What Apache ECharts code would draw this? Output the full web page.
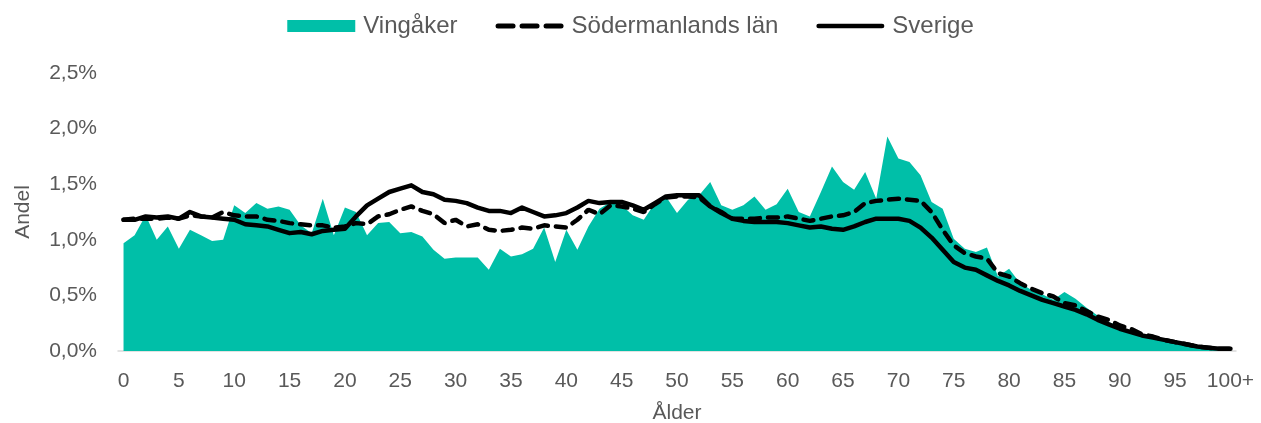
<!DOCTYPE html>
<html><head><meta charset="utf-8">
<script src="https://cdn.jsdelivr.net/npm/echarts@6/dist/echarts.min.js"></script>
<style>html,body{margin:0;padding:0;background:#fff}#c{width:1261px;height:423px}</style>
</head><body><div id="c"></div>
<script>
const ages = [];
for (let i = 0; i < 100; i++) ages.push(String(i));
ages.push('100+');
const vingaker = [0.97,1.04,1.22,1.00,1.12,0.92,1.09,1.04,0.99,1.00,
1.31,1.24,1.33,1.28,1.30,1.27,1.13,1.06,1.37,1.04,
1.29,1.25,1.04,1.15,1.16,1.06,1.07,1.03,0.91,0.83,
0.84,0.84,0.84,0.73,0.92,0.85,0.87,0.92,1.11,0.80,
1.09,0.91,1.12,1.28,1.34,1.31,1.22,1.18,1.33,1.39,
1.24,1.36,1.40,1.52,1.31,1.27,1.31,1.39,1.27,1.32,
1.46,1.25,1.21,1.43,1.66,1.52,1.45,1.61,1.37,1.93,
1.73,1.70,1.58,1.34,1.28,1.01,0.92,0.89,0.93,0.67,
0.74,0.61,0.55,0.51,0.46,0.53,0.47,0.39,0.32,0.26,
0.22,0.17,0.14,0.13,0.10,0.07,0.05,0.035,0.02,0.015,0.02];
const sodermanland = [1.18,1.19,1.19,1.19,1.20,1.19,1.22,1.21,1.20,1.25,
1.22,1.21,1.21,1.18,1.17,1.15,1.14,1.13,1.13,1.11,
1.12,1.15,1.14,1.21,1.23,1.27,1.30,1.26,1.23,1.15,
1.18,1.12,1.14,1.09,1.08,1.09,1.11,1.10,1.13,1.12,
1.11,1.18,1.27,1.23,1.31,1.30,1.28,1.25,1.32,1.38,
1.39,1.39,1.38,1.30,1.25,1.19,1.19,1.19,1.20,1.20,
1.21,1.19,1.17,1.19,1.21,1.22,1.25,1.33,1.35,1.36,
1.37,1.36,1.35,1.25,1.09,0.95,0.88,0.85,0.83,0.70,
0.67,0.61,0.56,0.52,0.49,0.43,0.41,0.36,0.31,0.28,
0.23,0.20,0.15,0.13,0.10,0.08,0.06,0.04,0.03,0.02,0.02];
const sverige = [1.18,1.18,1.21,1.20,1.21,1.19,1.25,1.21,1.20,1.19,
1.18,1.14,1.13,1.12,1.09,1.06,1.07,1.05,1.08,1.09,
1.10,1.21,1.31,1.37,1.43,1.46,1.49,1.43,1.41,1.36,
1.35,1.33,1.29,1.26,1.26,1.24,1.29,1.25,1.21,1.22,
1.24,1.29,1.35,1.33,1.34,1.34,1.31,1.27,1.33,1.39,
1.40,1.40,1.40,1.30,1.24,1.19,1.17,1.16,1.16,1.16,
1.15,1.13,1.11,1.12,1.10,1.09,1.12,1.16,1.19,1.19,
1.19,1.17,1.11,1.02,0.91,0.80,0.75,0.73,0.68,0.63,
0.59,0.54,0.50,0.46,0.43,0.40,0.37,0.33,0.28,0.24,
0.20,0.17,0.14,0.12,0.10,0.08,0.06,0.04,0.03,0.02,0.02];
const yTicks = ['0,0%','0,5%','1,0%','1,5%','2,0%','2,5%'];

const FONT = 'Liberation Sans, Arial, sans-serif';
const GREY = '#595959';
const dashIcon = 'path://M2.5,0 H17.5 A2.5,2.5 0 0 1 17.5,5 H2.5 A2.5,2.5 0 0 1 2.5,0 Z M26.5,0 H41.5 A2.5,2.5 0 0 1 41.5,5 H26.5 A2.5,2.5 0 0 1 26.5,0 Z M50.5,0 H65.5 A2.5,2.5 0 0 1 65.5,5 H50.5 A2.5,2.5 0 0 1 50.5,0 Z';
const solidIcon = 'path://M2.5,0 H71.5 A2.5,2.5 0 0 1 71.5,5 H2.5 A2.5,2.5 0 0 1 2.5,0 Z';
const chart = echarts.init(document.getElementById('c'), null, {renderer: 'canvas'});
chart.setOption({
  animation: false,
  legend: {
    top: 9, left: 'center',
    itemWidth: 68, itemHeight: 12, itemGap: 38,
    textStyle: {fontFamily: FONT, fontSize: 24, color: GREY, padding: [0, 0, 0, 3]},
    data: [
      {name: 'Vingåker', icon: 'rect'},
      {name: 'Södermanlands län', icon: dashIcon},
      {name: 'Sverige', icon: solidIcon}
    ]
  },
  grid: {left: 118, right: 25, top: 73, bottom: 72, containLabel: false, outerBoundsMode: 'none'},
  xAxis: {
    type: 'category', data: ages, boundaryGap: true,
    name: 'Ålder', nameLocation: 'middle', nameGap: 52,
    nameTextStyle: {fontFamily: FONT, fontSize: 21, color: GREY},
    axisLine: {lineStyle: {color: '#d9d9d9', width: 1.5}},
    axisTick: {show: false},
    axisLabel: {interval: 4, margin: 20, fontFamily: FONT, fontSize: 21, color: GREY}
  },
  yAxis: {
    type: 'value', min: 0, max: 2.5, interval: 0.5,
    name: 'Andel', nameLocation: 'middle', nameGap: 84, nameRotate: 90,
    nameTextStyle: {fontFamily: FONT, fontSize: 21, color: GREY},
    axisLine: {show: false}, axisTick: {show: false},
    splitLine: {show: false},
    axisLabel: {margin: 21, fontFamily: FONT, fontSize: 21, color: GREY,
      formatter: function (v) { return yTicks[Math.round(v / 0.5)]; }}
  },
  series: [
    {name: 'Vingåker', type: 'line', data: vingaker, symbol: 'none',
     color: '#00BFA8', itemStyle: {color: '#00BFA8'},
     lineStyle: {width: 0, color: '#00BFA8'},
     areaStyle: {color: '#00BFA8', opacity: 1}},
    {name: 'Södermanlands län', type: 'line', data: sodermanland, symbol: 'none',
     color: '#000', itemStyle: {color: '#000'},
     lineStyle: {width: 4.5, color: '#000', type: [10, 8], cap: 'round'}},
    {name: 'Sverige', type: 'line', data: sverige, symbol: 'none',
     color: '#000', itemStyle: {color: '#000'},
     lineStyle: {width: 4.5, color: '#000', cap: 'round', join: 'round'}}
  ]
});
</script></body></html>
